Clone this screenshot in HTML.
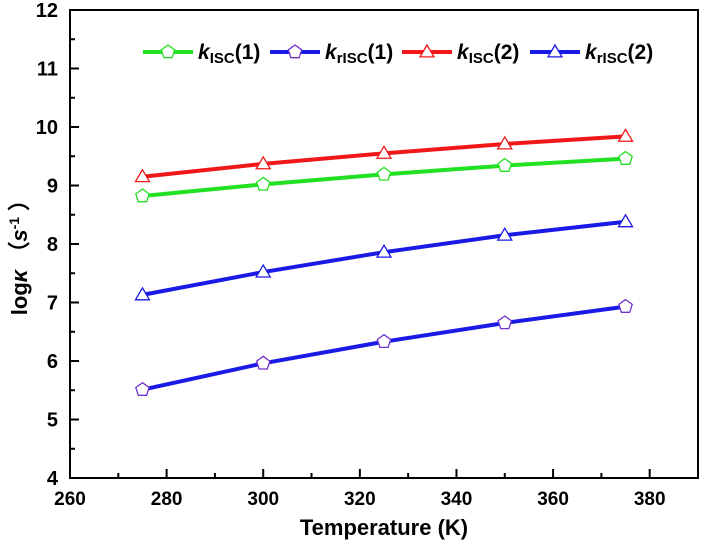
<!DOCTYPE html>
<html><head><meta charset="utf-8"><style>
body{margin:0;background:#fff}
svg text{font-family:"Liberation Sans",Arial,sans-serif;fill:#000}
</style></head><body>
<svg id="chart" width="701" height="548" xmlns="http://www.w3.org/2000/svg">
<g id="axes"></g>
<g id="series"></g>
<g id="legend"></g>
<text x="384" y="535" font-size="22" font-weight="bold" text-anchor="middle">Temperature (K)</text>
<text transform="translate(27,252) rotate(-90)" font-size="22" font-weight="bold" text-anchor="middle">log<tspan font-style="italic">κ</tspan> （<tspan font-style="italic">s</tspan><tspan font-size="14" dy="-8">-1</tspan><tspan dy="8"> ）</tspan></text>
</svg>
<script>
const temps=[275,300,325,350,375];
const kISC1=[8.82,9.02,9.19,9.34,9.46];
const krISC1=[5.51,5.96,6.33,6.65,6.93];
const kISC2=[9.15,9.37,9.55,9.71,9.84];
const krISC2=[7.13,7.52,7.86,8.15,8.38];
const xTicks=[260,280,300,320,340,360,380];
const yTicks=[4,5,6,7,8,9,10,11,12];
const NS="http://www.w3.org/2000/svg";
const L=70,R=698,T=10,B=478;
const x=v=>L+(v-260)/(390-260)*(R-L);
const y=v=>B-(v-4)/(12-4)*(B-T);
function mk(tag,attrs,parent){const e=document.createElementNS(NS,tag);for(const k in attrs)e.setAttribute(k,attrs[k]);parent.appendChild(e);return e;}
const ax=document.getElementById('axes');
const frame=mk('rect',{x:L,y:T,width:R-L,height:B-T,fill:'none',stroke:'#000','stroke-width':2},ax);


for(let v=260;v<=390;v+=10){const big=v%20===0;const t=mk('line',{x1:x(v),x2:x(v),y1:B,y2:B-(big?9:5),stroke:'#000','stroke-width':2},ax);

}
xTicks.forEach(v=>{const t=mk('text',{x:x(v),y:505,'font-size':19,'font-weight':'bold','text-anchor':'middle'},ax);t.textContent=v;

});
for(let v=4;v<=12;v+=0.5){const big=v%1===0;const t=mk('line',{x1:L,x2:L+(big?9:5),y1:y(v),y2:y(v),stroke:'#000','stroke-width':2},ax);

}
yTicks.forEach(v=>{const t=mk('text',{x:L-12,y:y(v)+7,'font-size':20,'font-weight':'bold','text-anchor':'end'},ax);t.textContent=v;

});
function pent(cx,cy,r){let p=[];for(let i=0;i<5;i++){const a=-Math.PI/2+i*2*Math.PI/5;p.push((cx+r*Math.cos(a)).toFixed(1)+','+(cy+r*Math.sin(a)).toFixed(1));}return p.join(' ');}
function tri(cx,cy,r){return `${cx},${cy-r} ${cx-r},${cy+r*0.7} ${cx+r},${cy+r*0.7}`;}
function marker(shape,cx,cy,color,parent){return mk('polygon',{points:shape==='p'?pent(cx,cy,7):tri(cx,cy,7),fill:'#fff',stroke:color,'stroke-width':1.3},parent);}
const series=[
 {name:'kisc1',vals:kISC1,color:'#22e022',shape:'p',sub:'ISC',lbl:'(1)',lx:143},
 {name:'krisc1',vals:krISC1,color:'#1a1ae6',shape:'p',sub:'rISC',lbl:'(1)',lx:270,mc:'#7030d0'},
 {name:'kisc2',vals:kISC2,color:'#f01818',shape:'t',sub:'ISC',lbl:'(2)',lx:402},
 {name:'krisc2',vals:krISC2,color:'#1a1ae6',shape:'t',sub:'rISC',lbl:'(2)',lx:530}];
const sg=document.getElementById('series');const lg=document.getElementById('legend');
series.forEach(s=>{
 const g=mk('g',{},sg);
 
 
 const pl=mk('polyline',{points:s.vals.map((v,i)=>x(temps[i])+','+y(v)).join(' '),fill:'none',stroke:s.color,'stroke-width':4},g);
 
 
 s.vals.forEach((v,i)=>{const m=marker(s.shape,x(temps[i]),y(v),s.mc||s.color,g);
 
 });
 const e=mk('g',{},lg);
 
 
 mk('line',{x1:s.lx,x2:s.lx+50,y1:52,y2:52,stroke:s.color,'stroke-width':4},e);
 marker(s.shape,s.lx+25,52,s.mc||s.color,e);
 const t=mk('text',{x:s.lx+55,y:59,'font-size':21,'font-weight':'bold'},e);
 t.innerHTML=`<tspan font-style="italic">k</tspan><tspan font-size="15" dy="4">${s.sub}</tspan><tspan dy="-4">${s.lbl}</tspan>`;
});
</script>
</body></html>
